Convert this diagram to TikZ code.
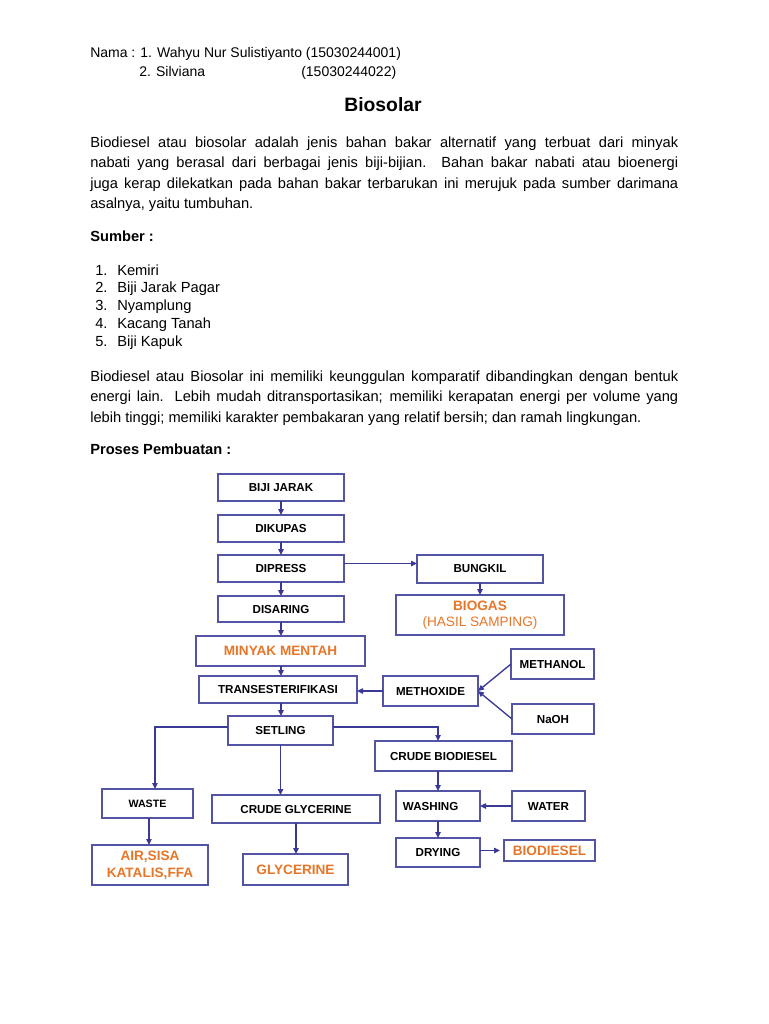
\documentclass[tikz,border=0pt]{standalone}
\usepackage{fontspec}
\setmainfont{Liberation Sans}
\usetikzlibrary{arrows.meta,calc}
\definecolor{boxblue}{RGB}{84,84,164}
\definecolor{arrblue}{RGB}{58,58,150}
\definecolor{orng}{RGB}{232,118,40}
\begin{document}
\begin{tikzpicture}[x=0.75pt,y=-0.75pt,
  txt/.style={anchor=base west, inner sep=0pt, font=\fontsize{11}{13}\selectfont},
  htxt/.style={txt, font=\fontsize{10.5}{12.5}\selectfont},
  btxt/.style={txt, font=\fontsize{11}{13}\selectfont\bfseries},
  box/.style={draw=boxblue, line width=1.1pt, inner sep=0pt, outer sep=0pt, font=\fontsize{8.7}{10}\selectfont\bfseries, text=black},
  obox/.style={box, font=\fontsize{10.2}{12.5}\selectfont\bfseries, text=orng, align=center},
  dims/.style 2 args={minimum width=#1*0.75pt, minimum height=#2*0.75pt},
  arr/.style={draw=arrblue, line width=1pt, -{Triangle[length=4.5pt,width=4pt]}},
]
\useasboundingbox (0,0) rectangle (768,1024);
\fill[white] (0,0) rectangle (768,1024);

% header
\node[htxt] (nama) at (90,58) {Nama :};
\node[htxt] (nama1) at (140,58) {1. Wahyu Nur Sulistiyanto (15030244001)};
\node[htxt] (nama2) at (139,76) {2. Silviana};
\node[htxt] (nim2) at (301,76) {(15030244022)};
\node[anchor=base, inner sep=0pt, font=\fontsize{14.5}{17}\selectfont\bfseries] (title) at (383,112) {Biosolar};

% paragraph 1
\node[txt] (p1a) at (90,147) {\makebox[441pt][s]{Biodiesel atau biosolar adalah jenis bahan bakar alternatif yang terbuat dari minyak}};
\node[txt] (p1b) at (90,167.5) {\makebox[441pt][s]{nabati yang berasal dari berbagai jenis biji-bijian. Bahan bakar nabati atau bioenergi}};
\node[txt] (p1c) at (90,188) {\makebox[441pt][s]{juga kerap dilekatkan pada bahan bakar terbarukan ini merujuk pada sumber darimana}};
\node[txt] (p1d) at (90,208.5) {asalnya, yaitu tumbuhan.};

\node[btxt] (sumber) at (90,241) {Sumber :};
\node[txt] (n1) at (95,275) {1.};      \node[txt] (s1) at (117,275) {Kemiri};
\node[txt] (n2) at (95,292.75) {2.};   \node[txt] (s2) at (117,292.75) {Biji Jarak Pagar};
\node[txt] (n3) at (95,310.5) {3.};    \node[txt] (s3) at (117,310.5) {Nyamplung};
\node[txt] (n4) at (95,328.25) {4.};   \node[txt] (s4) at (117,328.25) {Kacang Tanah};
\node[txt] (n5) at (95,346) {5.};      \node[txt] (s5) at (117,346) {Biji Kapuk};

% paragraph 2
\node[txt] (p2a) at (90,381) {\makebox[441pt][s]{Biodiesel atau Biosolar ini memiliki keunggulan komparatif dibandingkan dengan bentuk}};
\node[txt] (p2b) at (90,401.5) {\makebox[441pt][s]{energi lain. Lebih mudah ditransportasikan; memiliki kerapatan energi per volume yang}};
\node[txt] (p2c) at (90,422) {lebih tinggi; memiliki karakter pembakaran yang relatif bersih; dan ramah lingkungan.};

\node[btxt] (proses) at (90,454) {Proses Pembuatan :};

% diagram boxes
\node[box, dims={126}{27}] (biji) at (281,487.5) {BIJI JARAK};
\node[box, dims={126}{27}] (kupas) at (281,528.5) {DIKUPAS};
\node[box, dims={126}{27}] (press) at (281,568.5) {DIPRESS};
\node[box, dims={126}{26}] (saring) at (281,609) {DISARING};
\node[obox, dims={169}{30}] (minyak) at (280.5,651) {MINYAK MENTAH};
\node[box, dims={158}{27}] (trans) at (278,689.5) {TRANSESTERIFIKASI};
\node[box, dims={105}{29}] (setling) at (280.5,730.5) {SETLING};
\node[box, dims={126}{28}] (bungkil) at (480,569) {BUNGKIL};
\node[obox, dims={168}{40}, font=\fontsize{10.2}{12}\selectfont\bfseries] (biogas) at (480,615) {BIOGAS\\{\mdseries (HASIL SAMPING)}};
\node[box, dims={83}{30}] (methanol) at (552.5,664) {METHANOL};
\node[box, dims={95}{30}] (methoxide) at (430.5,691) {METHOXIDE};
\node[box, dims={82}{30}] (naoh) at (553,719) {NaOH};
\node[box, dims={137}{30}] (crudebio) at (443.5,756) {CRUDE BIODIESEL};
\node[box, dims={84}{30}] (washing) at (438,806) {\hspace*{-11pt}WASHING};
\node[box, dims={73}{30}] (water) at (548.5,806) {WATER};
\node[box, dims={84}{29}] (drying) at (438,852.5) {DRYING};
\node[obox, dims={91}{21}] (biodiesel) at (549.5,850.5) {BIODIESEL};
\node[box, dims={91}{29}, font=\fontsize{8}{10}\selectfont\bfseries] (waste) at (147.5,803.5) {WASTE};
\node[obox, dims={116}{40}] (air) at (150,865) {AIR,SISA\\KATALIS,FFA};
\node[box, dims={168}{28}] (crudegly) at (296,809) {CRUDE GLYCERINE};
\node[obox, dims={105}{31}] (glycerine) at (295.5,869.5) {GLYCERINE};

% connectors
\draw[arr] (biji.south) -- (kupas.north);
\draw[arr] (kupas.south) -- (press.north);
\draw[arr] (press.south) -- (saring.north);
\draw[arr] (saring.south) -- (saring.south |- minyak.north);
\draw[arr] (saring.south |- minyak.south) -- (saring.south |- trans.north);
\draw[arr] (saring.south |- trans.south) -- (saring.south |- setling.north);
\draw[arr] ([yshift=3.75pt]press.east) -- ([yshift=3.75pt]press.east -| bungkil.west);
\draw[arr] (bungkil.south) -- (bungkil.south |- biogas.north);
\draw[arr] (methanol.west) -- (methoxide.east);
\draw[arr] (naoh.west) -- (methoxide.east);
\draw[arr] (methoxide.west) -- (methoxide.west -| trans.east);
\draw[arr] ([yshift=2.6pt]setling.west) -| ([xshift=5.6pt]waste.north);
\draw[arr] ([yshift=2.6pt]setling.east) -| ([xshift=-4.1pt]crudebio.north);
\draw[arr] (setling.south) -- (setling.south |- crudegly.north);
\draw[arr] ([xshift=1.1pt]waste.south) -- ([xshift=1.1pt]waste.south |- air.north);
\draw[arr] (crudegly.south) -- (crudegly.south |- glycerine.north);
\draw[arr] (washing.north |- crudebio.south) -- (washing.north);
\draw[arr] (washing.south) -- (drying.north);
\draw[arr] (water.west) -- (washing.east);
\draw[arr, shorten >=3pt] (biodiesel.west -| drying.east) -- (biodiesel.west);
\end{tikzpicture}
\end{document}
